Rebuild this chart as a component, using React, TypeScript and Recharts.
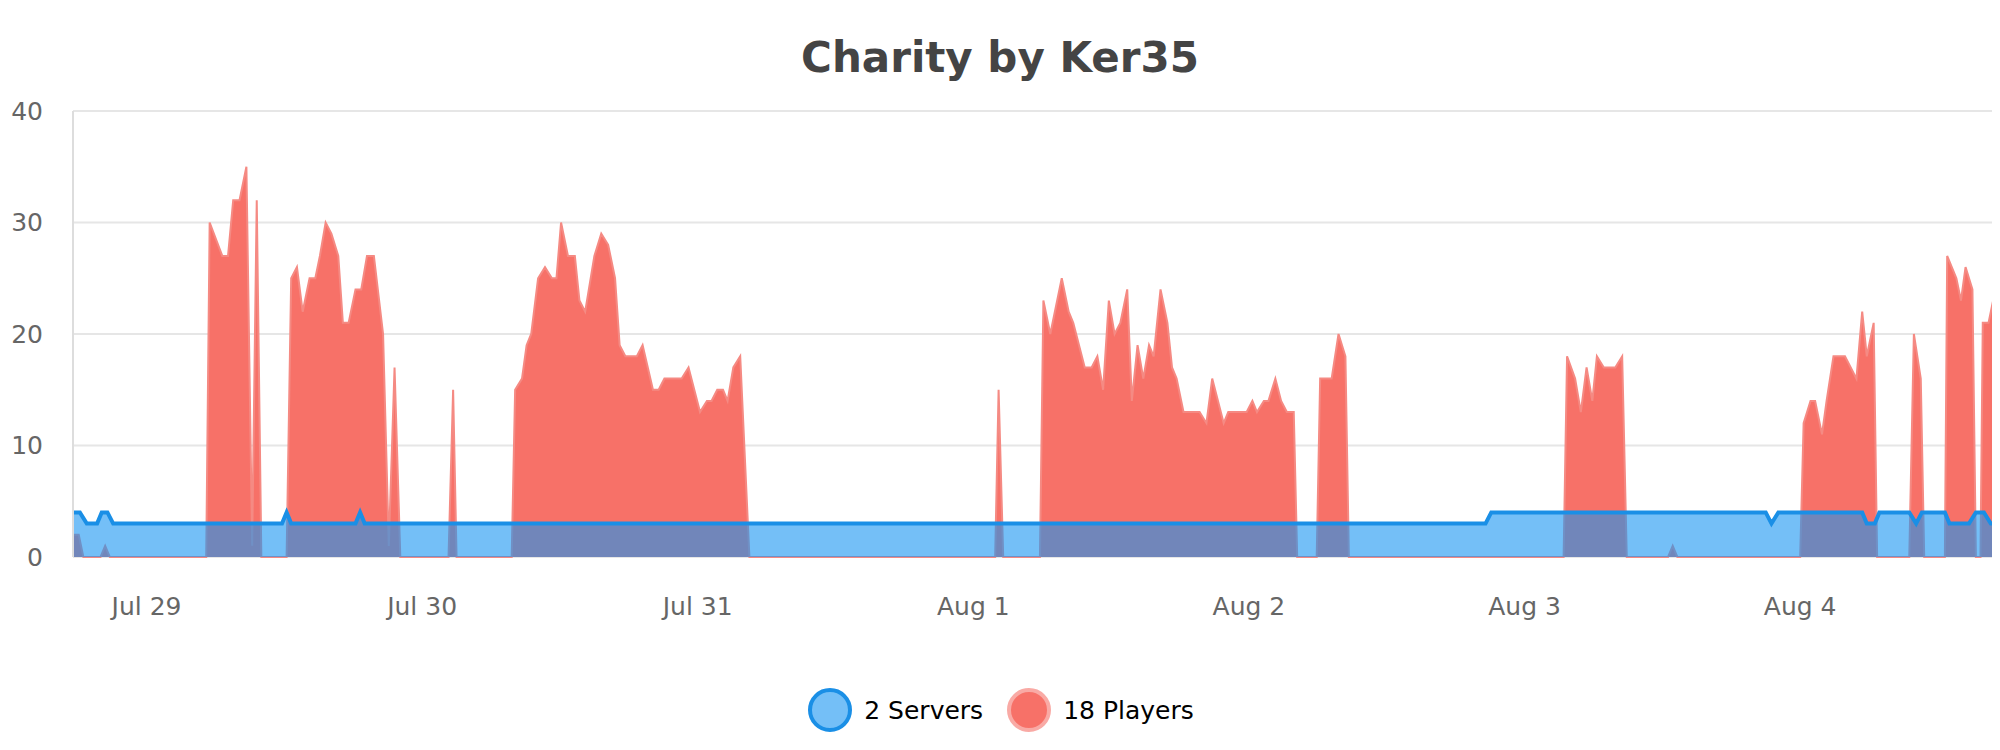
import React from 'react';
import { ComposedChart, Area, XAxis, YAxis, CartesianGrid } from 'recharts';

const dayLabels = ['Jul 29', 'Jul 30', 'Jul 31', 'Aug 1', 'Aug 2', 'Aug 3', 'Aug 4'];
const dayTicks = [0, 24, 48, 72, 96, 120, 144];
const yTicks = [0, 10, 20, 30, 40];

// [hours since Jul 29 00:00, count]
const serverPoints: [number, number][] = [
  [-6.4, 4], [-5.8, 4], [-5.2, 3], [-4.3, 3], [-3.9, 4], [-3.4, 4], [-2.9, 3],
  [11.8, 3], [12.2, 4], [12.6, 3], [18.2, 3], [18.6, 4], [19.0, 3],
  [116.6, 3], [117.1, 4], [141.0, 4], [141.5, 3], [142.1, 4],
  [149.4, 4], [149.8, 3], [150.5, 3], [150.9, 4], [153.5, 4], [154.1, 3], [154.6, 4],
  [156.6, 4], [157.0, 3], [158.7, 3], [159.3, 4], [160.0, 4], [160.6, 3], [160.9, 3], [161.4, 2],
];

const playerPoints: [number, number][] = [
  [-6.4, 2], [-5.9, 2], [-5.5, 0], [-4.0, 0], [-3.6, 1], [-3.2, 0],
  [5.2, 0], [5.5, 30], [6.6, 27], [7.1, 27], [7.55, 32], [8.1, 32], [8.7, 35], [9.2, 1], [9.6, 32], [10.0, 0],
  [12.2, 0], [12.6, 25], [13.1, 26], [13.6, 22], [14.2, 25], [14.7, 25], [15.1, 27], [15.6, 30], [16.1, 29],
  [16.7, 27], [17.1, 21], [17.6, 21], [18.2, 24], [18.7, 24], [19.2, 27], [19.8, 27], [20.6, 20], [21.1, 1],
  [21.6, 17], [22.1, 0], [26.3, 0], [26.7, 15], [27.0, 0],
  [31.8, 0], [32.1, 15], [32.7, 16], [33.1, 19], [33.5, 20], [34.1, 25], [34.7, 26], [35.3, 25], [35.7, 25],
  [36.1, 30], [36.7, 27], [37.3, 27], [37.7, 23], [38.2, 22], [39.0, 27], [39.6, 29], [40.2, 28], [40.8, 25],
  [41.2, 19], [41.7, 18], [42.7, 18], [43.2, 19], [44.1, 15], [44.6, 15], [45.1, 16], [46.6, 16], [47.2, 17],
  [48.2, 13], [48.8, 14], [49.2, 14], [49.7, 15], [50.2, 15], [50.6, 14], [51.1, 17], [51.7, 18], [52.5, 0],
  [73.9, 0], [74.2, 15], [74.6, 0],
  [77.8, 0], [78.1, 23], [78.7, 20], [79.7, 25], [80.3, 22], [80.7, 21], [81.7, 17], [82.3, 17], [82.8, 18],
  [83.3, 15], [83.8, 23], [84.3, 20], [84.8, 21], [85.4, 24], [85.8, 14], [86.3, 19], [86.8, 16], [87.3, 19],
  [87.7, 18], [88.3, 24], [88.9, 21], [89.3, 17], [89.7, 16], [90.3, 13], [91.7, 13], [92.3, 12], [92.8, 16],
  [93.8, 12], [94.2, 13], [95.8, 13], [96.3, 14], [96.7, 13], [97.3, 14], [97.7, 14], [98.3, 16], [98.8, 14],
  [99.3, 13], [99.9, 13], [100.2, 0], [101.9, 0], [102.2, 16], [103.2, 16], [103.8, 20], [104.4, 18], [104.7, 0],
  [123.4, 0], [123.7, 18], [124.4, 16], [124.9, 13], [125.4, 17], [125.9, 14], [126.3, 18], [126.9, 17],
  [127.9, 17], [128.5, 18], [128.9, 0], [132.5, 0], [132.9, 1], [133.3, 0],
  [144.0, 0], [144.3, 12], [144.9, 14], [145.3, 14], [145.9, 11], [146.3, 14], [146.9, 18], [147.9, 18],
  [148.9, 16], [149.4, 22], [149.8, 18], [150.4, 21], [150.7, 0], [153.5, 0], [153.9, 20], [154.5, 16],
  [154.8, 0], [156.6, 0], [156.8, 27], [157.6, 25], [158.0, 23], [158.4, 26], [159.0, 24], [159.3, 0],
  [159.7, 0], [159.9, 21], [160.4, 21], [161.0, 24], [161.4, 18],
];

const serverData = serverPoints.map(([t, v]) => ({ t, servers: v }));
const playerData = playerPoints.map(([t, v]) => ({ t, players: v }));

const font = 'DejaVu Sans, sans-serif';

const LegendContent = () => (
  <div style={{ display: 'flex', justifyContent: 'center', alignItems: 'center', fontFamily: font, fontSize: 25, color: '#000' }}>
    <svg width={48} height={48} style={{ marginRight: 10 }}>
      <circle cx={24} cy={24} r={20} fill="#74bff7" stroke="#1a8fe6" strokeWidth={4} />
    </svg>
    <span style={{ marginRight: 22 }}>2 Servers</span>
    <svg width={48} height={48} style={{ marginRight: 10 }}>
      <circle cx={24} cy={24} r={20} fill="#f77168" stroke="#f9aaa5" strokeWidth={4} />
    </svg>
    <span>18 Players</span>
  </div>
);

export default function App() {
  return (
    <div style={{ position: 'relative', width: 2000, height: 750, margin: -8, background: '#fff', overflow: 'hidden' }}>
      <div style={{ position: 'absolute', top: 33, left: 0, width: 2000, textAlign: 'center', fontFamily: font, fontWeight: 'bold', fontSize: 42, color: '#444' }}>
        Charity by Ker35
      </div>
      <ComposedChart width={2000} height={750} margin={{ top: 111, right: 0, bottom: 163, left: 0 }}>
        <CartesianGrid horizontal vertical={false} stroke="#e6e6e6" strokeWidth={2} />
        <XAxis
          type="number"
          dataKey="t"
          domain={[-6.4, 161.4]}
          ticks={dayTicks}
          tickFormatter={(v: number) => dayLabels[dayTicks.indexOf(v)] ?? ''}
          axisLine={false}
          tickLine={false}
          tickMargin={34}
          tick={{ fill: '#666', fontSize: 25, fontFamily: font }}
          allowDataOverflow
        />
        <YAxis
          type="number"
          domain={[0, 40]}
          ticks={yTicks}
          width={73}
          axisLine={{ stroke: '#dddddd', strokeWidth: 2 }}
          tickLine={false}
          tickSize={0}
          tickMargin={30}
          tick={{ fill: '#666', fontSize: 25, fontFamily: font }}
        />
        <Area
          data={playerData}
          dataKey="players"
          type="linear"
          fill="#f77168"
          fillOpacity={1}
          stroke="#f58a83"
          strokeWidth={2}
          isAnimationActive={false}
          dot={false}
          activeDot={false}
        />
        <Area
          data={serverData}
          dataKey="servers"
          type="linear"
          fill="#1794f2"
          fillOpacity={0.6}
          stroke="#1a8fe6"
          strokeWidth={4}
          isAnimationActive={false}
          dot={false}
          activeDot={false}
        />
      </ComposedChart>
      <div style={{ position: 'absolute', top: 686, left: 0, width: 2000 }}>
        <LegendContent />
      </div>
    </div>
  );
}
